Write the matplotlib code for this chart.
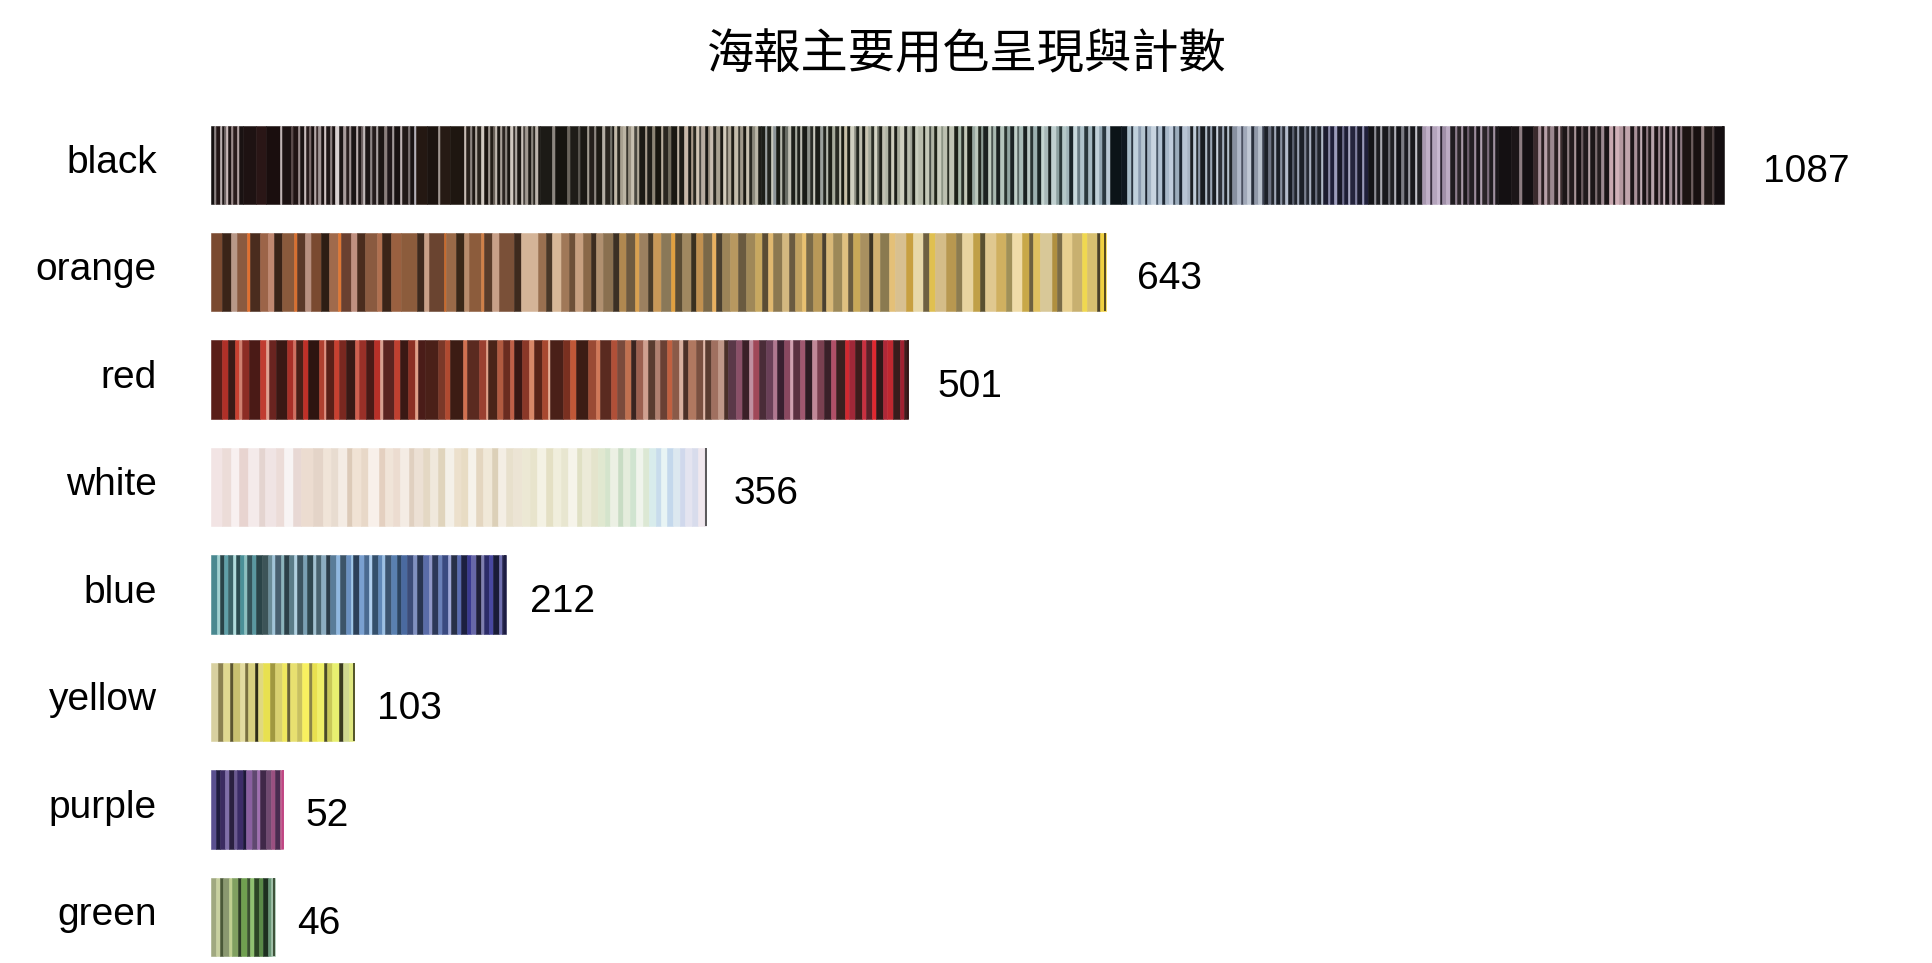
import numpy as np
import matplotlib
matplotlib.use('Agg')
import matplotlib.pyplot as plt

# --- data ---
categories = ['black', 'orange', 'red', 'white', 'blue', 'yellow', 'purple', 'green']
counts = [1087, 643, 501, 356, 212, 103, 52, 46]

# stripe runs, left to right: "colour:relative width"
black_runs = """
141010:3 8a8080:2 231616:3 b8aeae:2 1c1414:2 6e6464:2 c8b8b8:2 1e1414:3 9a8a8a:2 2a1c1c:3 b0a0a0:2 1a1212:4
1e1212:12 2a1616:10 1a0e0e:13
c0b4b4:2 1c1212:8 5a4a4a:2 201414:5
9a8c8c:2 1c1414:3 c8bcbc:2 2a1e1e:3 7a6a6a:2 181010:3 b4a8a8:2 3a2c2c:2 a09494:2 1c1414:3 d0c4c4:2 201818:4 8c8080:2 1a1212:3
d8d0d0:3 1c1616:4 a89c9c:3
2a2020:3 9c9090:2 1a1414:4 b8acac:2 201818:3 6e6262:2 c0b8b8:2 1c1616:4 8c8484:2 241c1c:4 a8a0a0:2
1c1614:6 8a7e7c:2 20181a:5 a09898:2 181212:6 c0b4b4:2 221a18:5 7a7070:2 1a1414:4 b4b0b8:2
241812:10 1c1410:10
a09690:2 261a14:10 1e1610:13 c8bcb4:2
2a221c:3 8c8480:2 1e1814:3 b0a8a0:2 2a241e:4 d0c8c0:3 1a1410:3 9c948c:2 241e18:3 6a625a:2
c0b8b0:2 1c1814:3 a8a098:2 2a2420:2 8c8680:2 1a1612:3 d0c8c0:3 3a3430:2 b0aaa4:2 1c1814:3 c8c0b8:2 4a4440:2
a09890:3 1e1a16:3 8a847c:2 2a2620:2 bcb4ac:2 1c1814:2
1c1a16:12 8c8680:2 161410:12 6a645c:2 1e1c18:8
5a5650:2 1a1814:6 a09a90:2 24201c:5 8c8680:2 1c1a14:6 b4aea4:2 2a2620:5 707068:2 1a1814:2
c0b8a8:3 2a2820:2 a8a090:3 bcb4a4:3 3a362e:2 9c9484:3 c8c0b0:3 4a4840:2 b0a898:2
1c1a14:6 a89c8c:2 201e18:5 8c8474:2 18160f:6 b8ac9c:2 2a2620:5 706a5c:2 1a1812:6 c0b4a4:2 1e1c16:5
c8b8a8:3 1e1c16:3 a89888:2 2a2820:3 d0c4b4:3 4a4640:2 b8aca0:3 1a1814:3 9c9080:2 c8bcb0:3 2a2822:3
a8a090:3 1c1a14:3 d4ccbc:3 5a5448:2 b0a898:3 201e18:3 c4bcac:3 3a3830:2 a0988a:3 1c1a14:3 c8c0b0:3
2a2a22:3 8c8a7c:2 bcb8a8:3 1e1e18:3
1c1e18:4 9aa0a0:2 22241e:3 c8c8bc:2 8c9498:3 1a1c16:4 b4b6aa:2 2a2c26:3 6a6e66:2 c0c0b4:3 1e201a:4
a4a89c:2 20221c:3 bcbcb0:2 1a1c16:4 8c9088:3 2a2c26:3 c8c8bc:2 1c1e18:4 9aa09c:3 242620:3 b4b8ac:2
1e2018:4 a8ac9c:3 2a2c24:3 c4c4b4:2 1a1c14:3
c8c0a8:3 1e2018:3 d0d0c0:3 8a8c80:2 242820:3 bcbcac:3 1a1c16:3 c8c4b0:3 a4a898:2 2a2e26:3 d4d4c4:3
6a6e62:2 1e2018:3 c0c0b0:3 b0b4a4:2 2a2c24:3 ccccbc:3 1c1e18:3 a8ac9c:3 d0d0c0:3 242620:3 b8bcac:3
9ca094:2 1e2018:3 c8ccbc:3
b8bcac:4 1e2218:2 c4c8b8:4 4a5048:2 b0b4a4:3 202418:2 c8ccbc:4 8c9484:2 bcc0b0:4 2a2e24:2 c0c4b4:4
1c2018:4 a8b8a8:3 2a3028:3 c4c8b8:3 1a1e16:4 98a8a0:3 bcc8bc:3 242a22:3 8c9c94:2 1c2220:4 c0ccc0:3
4a5450:2 a8b8b0:3 1a2020:4 b4c4bc:3 2a3430:3 90a4a0:3 1c2424:4 c0d0c8:3 5a6864:2 a8bcb8:3 1a2222:4
b8c8c4:3 2a3434:3 9cb0b0:3 1c2626:4 c4d4d0:3
a8b8b8:4 1c2424:3 c0d0d0:4 8ca0a0:3 2a3838:3 b4c8c8:4 a0b4b8:3 1a2428:3 c8d8dc:4 6a7c84:3 b0c4cc:4
2a383c:3 a4b8c0:4 1e2a2e:3 c0d0d8:4 90a4b0:3 2a3840:3 b8c8d4:4
0c1418:10 101820:6
a8bcc8:4 2a3440:2 c0d0dc:4 8c9cb0:3 b4c4d0:4 1c2430:2 a4b4c4:4 c8d4e0:4 4a5868:2 b0c0d0:4 1e2834:3
a8b8c8:4 c0ccdc:3 3a4654:2 9cacbc:4 1c2430:3 b8c4d4:4
a8b4c4:3 1c2024:3 c0ccd8:3 2a3034:2 8c98a8:2 181c20:4 b0bcc8:2 242830:3 98a4b4:2 1a1e24:4 c8d0dc:2
2c3038:3 a0acbc:2 1c2026:3 b4c0cc:2 202428:3
8890a0:4 b0b8c8:4 4a5060:2 a0a8b8:4 c0c8d4:4 2a303c:2 9098a8:4 b8c0cc:4 3a4050:2
1c2028:4 6a7080:2 242830:3 a0a8b8:2 1a1e26:4 8890a0:2 2a2e38:3 b4bccc:2 181c24:4 5a6070:2 20242c:3
9ca4b4:2 1c2028:4 7a8090:2 262a34:3 a8b0c0:2 1a1e26:4 6a7080:2 20242c:3 b0b8c8:2
1c1c30:5 8888a8:2 20203a:4 9c9cbc:2 181828:5 6c6c8c:2 1c1c34:4 a8a8c4:2 24243c:4 8080a0:2 1a1a2c:5
9898b8:2 20203a:4
141418:5 8c8c94:2 1c1c20:4 a8a8b0:2 18181c:5 6c6c74:2 202024:4 b0b0b8:2 141418:5 7c7c84:2 1c1c22:4
9c9ca4:2 18181c:5 c0c0c8:2 202024:4
a898b0:4 c0b0c8:4 3a3040:2 b4a4bc:4 c8b8d0:3 2a2430:2 a090a8:4 bcacc4:4
201c20:4 8c7c8c:2 2a2428:4 a898a8:2 1c181c:4 6c5c6c:2 242024:4 9c8c9c:2 1a161a:4 b0a0b0:2 2a2428:4
7c6c7c:2 201c20:4 a090a0:2 1c181c:3
141012:12 1c1618:8 8c7c80:2 141012:11
3a2a2c:4 a89098:3 2a1e20:3 b8a0a8:3 4a3a3c:3 9c8890:3 2a2022:4 c0a8b0:2 3a2c2e:2
1c1618:5 8c7c80:2 241c1e:4 a89498:2 181214:5 6c5c60:2 201a1c:4 b4a0a4:2 1c1618:5 7c6c70:2 261e20:4
9c8890:2 1a1416:5
c8a8b0:4 2a2024:2 d0b0b8:4 b498a0:3 3a2c30:2 c0a4ac:5
1c1618:4 a89098:2 2a2024:3 c0acb4:2 181214:4 8c7880:2 241c1e:3 b8a4ac:2 1c1416:4 9c8890:2 2a2024:3
c8b4bc:2 181214:4 a08c94:2 221a1c:3 b4a0a8:2 1c1618:3 8c7880:2
1c1412:8 6c5c5c:2 181010:8 9c8888:2 201816:8 4a3c3c:2 140e10:9
"""
orange_runs = """
7a4a30:8 3a2418:6 b89888:4 8a5a40:7 e07030:2 4a2c1e:7 9c6448:6 c08870:4 3a2418:6 8a5a3c:8
d87030:2 5a3828:6 b89080:4 7a4a30:7 2e1e14:6 a06a4c:6 e07834:2 6a4030:7 c09080:4 4a2c1e:6
8a5a40:8 b07050:4 3a2418:6 9a6040:7
8c5c3c:11 3e2a1e:5 c8a088:4 6a4430:10 c86a2c:2 9a6a48:7 3a2818:5 b88c6c:4 8c5c3c:8 d08048:2
5a3c2a:6 c8a088:5 7a5038:10 3e2a1e:5
d4b498:12 9a7050:6 4a3828:4 d8b898:6 a07858:6 6e5038:4 c8a080:6 8a6848:5 3c2c20:4 b09070:5
8a7050:7 3c3024:4 b08850:5 6e5a40:6 d8a050:3 9c8060:6 4a3c2a:4 c89858:5 8a7858:7 e0a040:3
5a4c34:5 a08860:6 3a3020:4 c09050:5 7a6848:6 e8b060:3 4a4030:4 9c8458:6 b89860:5 6a5a40:6
a08858:6 c8a860:5 5a4c34:4 e0b870:4 8c7850:6 d4b880:5 6a5a40:4 c0a060:5 e8c070:3 7a6a48:5
b89858:6 4a4030:3 d8b878:5 9c8858:6 e0c080:4 6a5c40:4 c8a858:5 a89060:6 3c3424:3 d0b070:5
8a7a50:6 e4c078:4
d8c090:8 c8a040:5 e8d8a8:7 6e6040:4 e0c050:4 d4bc88:8 b89850:7 8c7c50:4 e8d4a0:8 c0a048:5
5a5030:3 e0c890:8 d0b060:7 a09058:4 f0dca8:7 c8a848:5 6e6040:3 e0c060:5 d8c898:8 b09040:4
7a6c48:3 e8d090:7 c8b070:7 f0d850:4 d8c070:7 4a4028:2 f0d040:4
"""
red_runs = """
5a1e18:8 b03028:4 3a1a16:5 c84030:3 d08070:2 8c2c24:5 4a1a16:8 c03c30:4 e0a090:2 6a2420:5
3a1814:8 a83028:4 d07060:2 4a2018:5 c03028:4 2e1410:8 b04030:3 e09080:2 5a2018:5 c84030:4
7a2820:5 3a1a16:6 d06050:3 9a3028:5 4a1a16:6 b83028:4 d8a090:2 5a2420:8 c04030:4 3a1814:6
8c3024:5 e0a088:2 4a1c18:5
4a2018:9 7a3828:5 b04a30:4 3c1c14:9 d07050:3 5a2a20:8 9a4030:5 e0a088:2 4a2418:6 b05a40:4
6a2c20:5 c06048:3 3a1814:6 8a3828:5 d88868:3 5a2418:6 a84830:4 e8b098:2 4a2018:9 7a3020:5
c05838:4 3c1c14:9 9a4a34:5 d07858:3 5a2a20:8 b05038:4
7a4a3c:6 c07050:4 3a2420:4 9c6050:5 d0a090:3 5a3c30:5 b08070:4 6a4034:5 c06040:3 8a5a48:5
d8b0a0:3 4a3028:4 b07860:5 7a5040:5 e0b8a8:2 5a3c30:4 a07060:5 c09888:4 4a3028:3
5a3848:6 8a5068:4 3a2028:5 c090a0:3 a04858:4 4a2c38:5 6a4058:5 b07890:3 3a2030:5 8a4860:4
d0a0b0:2 5a3040:5 a05870:4 2e1c24:5 c08898:3 7a4050:5 3a2028:5 b05068:4
3a2020:6 d02830:3 a02838:4 401c1c:5 c83040:3 5a2028:4 e02830:3 2e1818:5 b02838:3 c02830:4
3a1c1c:5 a02030:3 401c1c:3
"""
white_runs = """
f2e4e4:8 ecdcd8:6 f8f0f0:6 e8d4d0:6 f4eaea:8 e4d4d0:4 f0e4e4:8 ecdcd8:6 f8f4f4:6 e8d8d4:6
ecdcd0:8 e4d4c8:7 f0e4d8:6 e8dcd0:5 f4ece4:6 dccab8:4 f0e2d4:6 e8d8c8:5 f8f0ea:8 e4d0c0:4
f0e4d8:6 ecdcd0:5 f4ece4:6 e0d0c0:4 ece0d4:6
e4d8c4:5 f0e8dc:6 e0d4bc:5 f4f0e8:6 ece0cc:5 e8dcc4:5 f6f2ea:6 e4d6c0:5 f0e8d8:6 dcd0b8:4
f4eee4:6 e8e0cc:5 ece4d4:6
ece8d4:6 e8e4cc:5 f4f2e4:6 e4e0c4:5 f0eedc:6 e8e6d0:5 f6f4ea:6 e0e0c4:4 ecead8:6 e4e4cc:5
e0e8d0:5 d4e4cc:4 ecf0e4:5 c8dcc4:4 e4ecdc:5 d0e4d0:4 f0f4ec:5 dce8d4:4
d8ecec:5 c8dcec:4 e8f4f4:4 c4d8ec:4 dce8f0:5
d0d8ec:4 e4e4f0:5 d8dcec:4 f0e8ee:4 e8e0e8:2
"""
blue_runs = """
4a8890:4 a0d0d0:2 2a4448:3 60a0a8:3 3c6468:3 b0dcdc:2 2c4c50:3 4a9098:3 8cc0c0:2 34545a:3
5a98a0:3 2a4448:4
3c5458:4 6a8c98:3 a0c4d8:2 486070:4 8cb4bc:2 2c4048:4 5a7c88:3 b0d0e0:2 3c5460:4 7aa0b4:3
304850:4 a0c0d0:2 4a6470:4 8cacc0:3 2c3c48:3
5a7c98:4 90b8e0:3 3c5468:4 6a90c0:3 a0c8e8:2 2c4058:4 7aa0d0:3 4a6a90:4 b0d0f0:2 34506c:4
6088b8:3 9cc0e4:2 3c5470:4 5a80b0:4 2c4460:3
4a6aa0:4 3c4c78:4 8090c0:3 283450:4 5a6ca8:4 9098c8:2 2c3858:4 6a80b8:3 3a4a80:4 a0a8d8:2
283048:4 5a6cb0:3
1c2040:4 3a3a90:3 6868a8:3 202038:4 8080b0:2 2c2c68:3 4848a0:3 1a1c38:4 7070b0:2 24244c:3
"""
yellow_runs = """
d8d0a0:4 8a8050:3 e0d890:4 5a5430:2 c8c070:4 e4dca0:3 7a7040:2 d8d080:4 2e2c18:2 e0d880:3
e8e050:4 a09840:3 d8d070:4 f0e860:3 6a6438:2 e8e070:4 c8c060:3 f8f060:4 8a8448:2 e8e050:3
f0f068:4 4a4a28:2 c8c858:3 e8f070:4 3a3a20:2 d0d890:4 e0e880:3
"""
purple_runs = """
5a5090:3 201c40:2 3a2c60:3 8070a8:2 2a2040:3 6a5890:2 3c2c68:3 1c1838:2 8a60a0:3 604870:3
a070b0:2 402848:3 704a70:3 9a5080:2 4a2c50:3 c06090:2
"""
green_runs = """
a0a880:3 c8d0a0:2 4a5838:2 8a9870:3 c0d090:2 80a060:3 2c3c24:2 70a050:3 3a5030:2 90c070:2
2c4424:3 5a8a48:2 1e3020:3 6a9878:2 a0c0a8:2
"""

# colour of the last poster in each bar (thin line at the bar end)
end_cols = ['140e10', '3a3018', '301414', '404040', '1c1c40', '3a3a18', 'c04080', '2c3c24']

title = '海報主要用色呈現與計數'

run_sets = [black_runs, orange_runs, red_runs, white_runs,
            blue_runs, yellow_runs, purple_runs, green_runs]


def parse_runs(txt):
    cols, weights = [], []
    for tok in txt.split():
        c, n = tok.split(':')
        cols.append('#' + c)
        weights.append(float(n))
    return cols, np.array(weights)


# --- figure ---
W, H = 1933, 963
fig = plt.figure(figsize=(W / 100, H / 100), dpi=100)
ax = fig.add_axes([211 / W, 3 / H, 1670 / W, 849 / H])
font = ['Liberation Sans', 'DejaVu Sans']

bar_h = 0.73
for i, (cnt, txt) in enumerate(zip(counts, run_sets)):
    cols, wts = parse_runs(txt)
    widths = wts / wts.sum() * cnt   # scale runs so the bar ends at the count
    lefts = np.concatenate([[0], np.cumsum(widths)[:-1]])
    ax.barh(i, widths, left=lefts, height=bar_h, color=cols,
            edgecolor=cols, linewidth=0.4)
    ax.vlines(cnt - 0.4, i - bar_h / 2, i + bar_h / 2,
              color='#' + end_cols[i], linewidth=1.2)

    # category name left of bar
    ax.annotate(categories[i], xy=(0, i), xytext=(-38.9, -5.8),
                textcoords='offset points', ha='right', va='baseline',
                fontsize=28, family=font)
    # count right of bar
    ax.annotate(str(cnt), xy=(cnt + 15 + 0.012 * cnt, i), xytext=(0, -12.2),
                textcoords='offset points', ha='left', va='baseline',
                fontsize=28, family=font)

ax.set_xlim(0, 1200)
ax.set_ylim(7.4, -0.5)
ax.axis('off')

fig.text(0.5, 1 - 55 / H, title, ha='center', va='center', fontsize=34,
         family=['Noto Sans CJK TC', 'DejaVu Sans'])

fig.savefig('out.png', dpi=100)
